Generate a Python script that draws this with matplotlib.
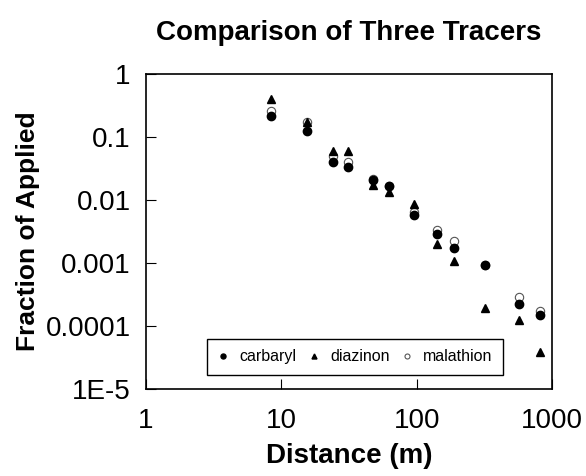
import matplotlib
matplotlib.use('Agg')
import matplotlib.pyplot as plt
from matplotlib.ticker import FixedLocator, FixedFormatter, NullLocator

plt.rcParams['font.family'] = ['Liberation Sans', 'DejaVu Sans']

# distance from source (m)
distance = [8.4, 15.6, 24, 31, 48, 63, 95, 142, 190, 318, 575, 820]

carbaryl = [0.21, 0.125, 0.040, 0.0334, 0.0208, 0.0163, 0.0057, 0.0029,
            0.0017, 0.00092, 0.00022, 0.00015]
diazinon = [0.40, 0.171, 0.0585, 0.0585, 0.0175, 0.0133, 0.0086, 0.0020,
            0.00108, 0.000195, 0.000126, 3.8e-5]
malathion = [0.26, 0.169, 0.050, 0.0405, 0.0215, 0.0165, 0.0064, 0.0033,
             0.0022, 0.00092, 0.00029, 0.00017]

x_ticks = [1, 10, 100, 1000]
x_labels = ['1', '10', '100', '1000']
y_ticks = [1e-5, 1e-4, 1e-3, 1e-2, 1e-1, 1]
y_labels = ['1E-5', '0.0001', '0.001', '0.01', '0.1', '1']

fig = plt.figure(figsize=(5.86, 4.76), dpi=100)
ax = fig.add_axes([0.249, 0.183, 0.693, 0.662])

ax.plot(distance, malathion, 'o', ls='none', ms=6, mfc='white', mec='#555555',
        mew=0.8, label='malathion', zorder=2)
ax.plot(distance, diazinon, '^', ls='none', ms=6, color='black',
        label='diazinon', zorder=3)
ax.plot(distance, carbaryl, 'o', ls='none', ms=6, color='black',
        label='carbaryl', zorder=4)

ax.set_xscale('log')
ax.set_yscale('log')
ax.set_xlim(1, 1000)
ax.set_ylim(1e-5, 1)

ax.xaxis.set_major_locator(FixedLocator(x_ticks))
ax.xaxis.set_major_formatter(FixedFormatter(x_labels))
ax.yaxis.set_major_locator(FixedLocator(y_ticks))
ax.yaxis.set_major_formatter(FixedFormatter(y_labels))
ax.xaxis.set_minor_locator(NullLocator())
ax.yaxis.set_minor_locator(NullLocator())
ax.tick_params(direction='in', length=7, width=0.8, labelsize=20)
ax.tick_params(axis='x', pad=14)
ax.tick_params(axis='y', pad=11)

for s in ax.spines.values():
    s.set_linewidth(1.2)

ax.set_title('Comparison of Three Tracers', fontsize=20, fontweight='bold', pad=24)
ax.set_xlabel('Distance (m)', fontsize=20, fontweight='bold', labelpad=6)
ax.set_ylabel('Fraction of Applied', fontsize=19, fontweight='bold', labelpad=4)

h, l = ax.get_legend_handles_labels()
order = [2, 1, 0]
leg = ax.legend([h[i] for i in order], [l[i] for i in order], ncol=3,
                loc='lower left', bbox_to_anchor=(0.13, 0.02), fontsize=11.5,
                markerscale=0.6, handlelength=0.8, handletextpad=0.6,
                columnspacing=0.7, borderpad=0.65, fancybox=False,
                framealpha=1, edgecolor='black')
leg.get_frame().set_linewidth(1.0)

plt.savefig('out.png', dpi=100)
